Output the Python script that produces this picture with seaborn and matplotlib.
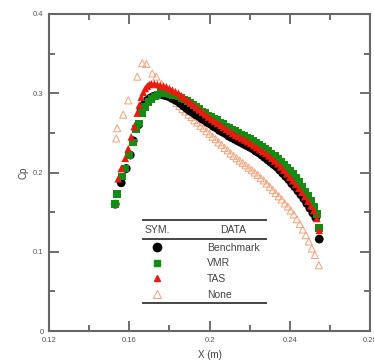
import numpy as np
import pandas as pd
import matplotlib
matplotlib.use("Agg")
import matplotlib.pyplot as plt
from matplotlib.lines import Line2D
from matplotlib.ticker import MultipleLocator, FixedLocator
import seaborn as sns

# ---- data ----
bench_x = [0.153, 0.156, 0.1585, 0.1605, 0.162, 0.1645, 0.166,
           0.1675, 0.169, 0.1705, 0.172, 0.1735, 0.175, 0.1765, 0.178, 0.1795, 0.181,
           0.1825, 0.184, 0.1855, 0.187, 0.1885, 0.190, 0.1915, 0.193, 0.1945, 0.196,
           0.1975, 0.199, 0.2005, 0.202, 0.2035, 0.205, 0.2065, 0.208, 0.2095, 0.211,
           0.2125, 0.214, 0.2155, 0.217, 0.2185, 0.220, 0.2215, 0.223, 0.2245, 0.226,
           0.2275, 0.229, 0.2305, 0.232, 0.2335, 0.235, 0.2365, 0.238, 0.2395, 0.241,
           0.2425, 0.244, 0.2455, 0.247, 0.2485, 0.250, 0.2515, 0.253, 0.2547]
bench_y = [0.160, 0.187, 0.205, 0.222, 0.240, 0.260, 0.279,
           0.286, 0.291, 0.294, 0.296, 0.297, 0.298, 0.298, 0.297, 0.296, 0.294,
           0.292, 0.290, 0.287, 0.284, 0.281, 0.278, 0.276, 0.273, 0.271, 0.268,
           0.266, 0.263, 0.261, 0.258, 0.256, 0.253, 0.251, 0.249, 0.246, 0.244,
           0.242, 0.240, 0.238, 0.236, 0.234, 0.232, 0.230, 0.227, 0.225, 0.222,
           0.219, 0.216, 0.213, 0.210, 0.207, 0.203, 0.199, 0.195, 0.191, 0.186,
           0.182, 0.177, 0.172, 0.167, 0.161, 0.155, 0.149, 0.143, 0.116]

vmr_x = [0.153, 0.154, 0.1565, 0.158, 0.160, 0.162, 0.1635, 0.165, 0.1665,
         0.168, 0.1695, 0.171, 0.1725, 0.174, 0.1755, 0.177, 0.1785, 0.180, 0.1815,
         0.183, 0.1845, 0.186, 0.1875, 0.189, 0.1905, 0.192, 0.1935, 0.195, 0.1965,
         0.198, 0.1995, 0.201, 0.2025, 0.204, 0.2055, 0.207, 0.2085, 0.210, 0.2115,
         0.213, 0.2145, 0.216, 0.2175, 0.219, 0.2205, 0.222, 0.2235, 0.225, 0.2265,
         0.228, 0.2295, 0.231, 0.2325, 0.234, 0.2355, 0.237, 0.2385, 0.240, 0.2415,
         0.243, 0.2445, 0.246, 0.2475, 0.249, 0.2505, 0.252, 0.2535, 0.2547]
vmr_y = [0.160, 0.173, 0.195, 0.205, 0.222, 0.238, 0.255, 0.262, 0.275,
         0.283, 0.289, 0.293, 0.296, 0.298, 0.300, 0.300, 0.300, 0.299, 0.298,
         0.297, 0.296, 0.294, 0.292, 0.290, 0.288, 0.285, 0.283, 0.280, 0.277,
         0.275, 0.272, 0.270, 0.268, 0.266, 0.263, 0.261, 0.258, 0.256, 0.254,
         0.252, 0.250, 0.248, 0.246, 0.244, 0.242, 0.240, 0.238, 0.235, 0.233,
         0.230, 0.227, 0.224, 0.221, 0.217, 0.214, 0.210, 0.206, 0.202, 0.198,
         0.193, 0.188, 0.182, 0.176, 0.170, 0.164, 0.157, 0.148, 0.130]

tas_x = [0.1545, 0.156, 0.158, 0.1595, 0.161, 0.1625, 0.164, 0.165, 0.166,
         0.167, 0.168, 0.169, 0.170, 0.171, 0.1725, 0.174, 0.1755, 0.177, 0.1785,
         0.180, 0.1815, 0.183, 0.1845, 0.186, 0.1875, 0.189, 0.1905, 0.192, 0.1935,
         0.195, 0.1965, 0.198, 0.1995, 0.201, 0.2025, 0.204, 0.2055, 0.207, 0.2085,
         0.210, 0.2115, 0.213, 0.2145, 0.216, 0.2175, 0.219, 0.2205, 0.222, 0.2235,
         0.225, 0.2265, 0.228, 0.2295, 0.231, 0.2325, 0.234, 0.2355, 0.237, 0.2385,
         0.240, 0.2415, 0.243, 0.2445, 0.246, 0.2475, 0.249, 0.2505, 0.252, 0.2535,
         0.2547]
tas_y = [0.192, 0.205, 0.218, 0.230, 0.245, 0.258, 0.275, 0.285, 0.295,
         0.301, 0.306, 0.309, 0.311, 0.312, 0.312, 0.311, 0.310, 0.309, 0.308,
         0.306, 0.304, 0.302, 0.300, 0.297, 0.294, 0.291, 0.288, 0.285, 0.282,
         0.279, 0.276, 0.273, 0.270, 0.267, 0.2645, 0.262, 0.2595, 0.257, 0.2545,
         0.252, 0.2495, 0.247, 0.245, 0.243, 0.241, 0.239, 0.2365, 0.234, 0.2315,
         0.229, 0.2265, 0.224, 0.221, 0.218, 0.2145, 0.211, 0.207, 0.203, 0.1985,
         0.194, 0.1895, 0.185, 0.180, 0.175, 0.1695, 0.164, 0.158, 0.152, 0.142,
         0.127]

none_x = [0.1535, 0.154, 0.157, 0.1595, 0.164, 0.1665, 0.1685, 0.1715, 0.1735,
          0.176, 0.1775, 0.179, 0.1805, 0.182, 0.1835, 0.185, 0.1865, 0.188, 0.1895,
          0.191, 0.1925, 0.194, 0.1955, 0.197, 0.1985, 0.200, 0.2015, 0.203, 0.2045,
          0.206, 0.2075, 0.209, 0.2105, 0.212, 0.2135, 0.215, 0.2165, 0.218, 0.2195,
          0.221, 0.2225, 0.224, 0.2255, 0.227, 0.2285, 0.230, 0.2315, 0.233, 0.2345,
          0.236, 0.2375, 0.239, 0.2405, 0.242, 0.2435, 0.245, 0.2465, 0.248, 0.2495,
          0.251, 0.2525, 0.2545]
none_y = [0.243, 0.256, 0.273, 0.291, 0.321, 0.338, 0.337, 0.325, 0.321,
          0.312, 0.307, 0.302, 0.297, 0.293, 0.288, 0.284, 0.280, 0.277, 0.273,
          0.270, 0.266, 0.263, 0.259, 0.256, 0.252, 0.249, 0.245, 0.242, 0.238,
          0.235, 0.231, 0.228, 0.224, 0.221, 0.218, 0.215, 0.212, 0.209, 0.206,
          0.203, 0.200, 0.197, 0.193, 0.190, 0.186, 0.182, 0.178, 0.174, 0.170,
          0.166, 0.161, 0.157, 0.152, 0.147, 0.141, 0.135, 0.128, 0.121, 0.113,
          0.104, 0.096, 0.083]

series_names = ["Benchmark", "VMR", "TAS", "None"]
x_ticks = [0.12, 0.16, 0.2, 0.24, 0.28]
x_tick_labels = ["0.12", "0.16", "0.2", "0.24", "0.28"]
y_ticks = [0, 0.1, 0.2, 0.3, 0.4]
y_tick_labels = ["0", "0.1", "0.2", "0.3", "0.4"]

df = pd.concat([
    pd.DataFrame({"x": bench_x, "y": bench_y, "s": "Benchmark"}),
    pd.DataFrame({"x": vmr_x, "y": vmr_y, "s": "VMR"}),
    pd.DataFrame({"x": tas_x, "y": tas_y, "s": "TAS"}),
    pd.DataFrame({"x": none_x, "y": none_y, "s": "None"}),
])

sns.set_style("ticks")
plt.rcParams["font.family"] = ["Liberation Sans", "DejaVu Sans"]

fig = plt.figure(figsize=(3.74, 3.63), dpi=100)
ax = fig.add_axes([49 / 374, 1 - 331 / 363, 321 / 374, 317 / 363])

c_none = "#f2a27a"
c_green = "#138c13"
c_red = "#ea1a0e"
sns.scatterplot(data=df[df.s == "None"], x="x", y="y", marker="^", s=26,
                facecolor="none", edgecolor=c_none, linewidth=0.7, ax=ax, legend=False)
sns.scatterplot(data=df[df.s == "Benchmark"], x="x", y="y", marker="o", s=40,
                color="black", edgecolor="none", ax=ax, legend=False)
sns.scatterplot(data=df[df.s == "VMR"], x="x", y="y", marker="s", s=30,
                color=c_green, edgecolor="none", ax=ax, legend=False)
sns.scatterplot(data=df[df.s == "TAS"], x="x", y="y", marker="^", s=30,
                color=c_red, edgecolor="none", ax=ax, legend=False)

ax.set_xlim(0.12, 0.28)
ax.set_ylim(0, 0.4)
ax.xaxis.set_major_locator(FixedLocator(x_ticks))
ax.set_xticklabels(x_tick_labels)
ax.yaxis.set_major_locator(FixedLocator(y_ticks))
ax.set_yticklabels(y_tick_labels)
ax.xaxis.set_minor_locator(MultipleLocator(0.02))
ax.yaxis.set_minor_locator(MultipleLocator(0.05))
ax.tick_params(which="both", direction="in", top=True, right=True,
               colors="#555555", width=1.2)
ax.tick_params(which="major", length=7, labelsize=5.5, pad=4, labelcolor="#555555")
ax.tick_params(which="minor", length=4)
for sp in ax.spines.values():
    sp.set_color("#666666")
    sp.set_linewidth(1.5)

ax.set_xlabel("X (m)", fontsize=7, color="#444444", labelpad=5)
ax.set_ylabel("Cp", fontsize=7, color="#444444", labelpad=3)

# table-style legend
handles = [
    Line2D([], [], marker="o", ls="none", color="black", markersize=6),
    Line2D([], [], marker="s", ls="none", color=c_green, markersize=5),
    Line2D([], [], marker="^", ls="none", color=c_red, markersize=5),
    Line2D([], [], marker="^", ls="none", markerfacecolor="none",
           markeredgecolor=c_none, markersize=5.5, markeredgewidth=0.7),
]
leg = ax.legend(handles, series_names, loc="upper left", bbox_to_anchor=(0.321, 0.279),
                frameon=False, fontsize=7.5, borderpad=0, handlelength=1.0,
                handletextpad=4.3, labelspacing=0.55, borderaxespad=0)
for t in leg.get_texts():
    t.set_color("#444444")

for yy in (0.349, 0.289, 0.089):
    ax.plot([0.290, 0.679], [yy, yy], transform=ax.transAxes, color="#444444",
            lw=1.4, solid_capstyle="butt")
ax.text(0.339, 0.319, "SYM.", transform=ax.transAxes, ha="center", va="center",
        fontsize=7.5, color="#444444")
ax.text(0.574, 0.319, "DATA", transform=ax.transAxes, ha="center", va="center",
        fontsize=7.5, color="#444444")

fig.savefig("out.png", dpi=100)
